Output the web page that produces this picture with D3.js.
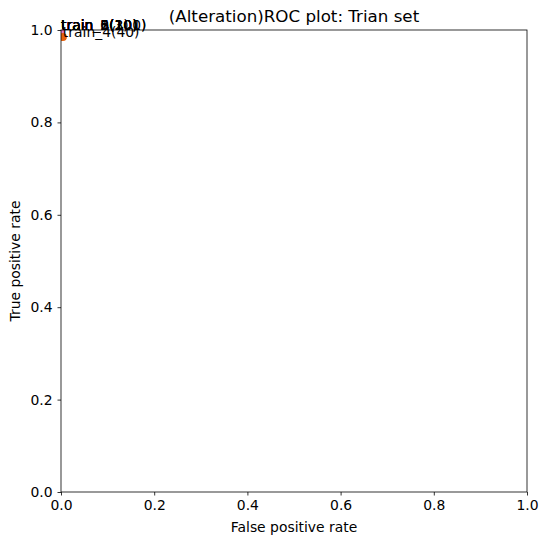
<!DOCTYPE html>
<html>
<head>
<meta charset="utf-8">
<script src="https://cdn.jsdelivr.net/npm/d3@7"></script>
<style>
  body { margin: 0; background: #fff; }
  text { font-family: "DejaVu Sans", sans-serif; }
</style>
</head>
<body>
<div id="chart"></div>
<script>
// ROC points per training run
var labels = ['train_0(1)', 'train_1(10)', 'train_2(20)', 'train_3(30)', 'train_5(100)', 'train_6(101)', 'train_4(40)'];
var fpr = [0, 0, 0, 0, 0, 0, 0.004];
var tpr = [1, 1, 1, 1, 1, 1, 0.985];
var colors = ['#1f77b4', '#2ca02c', '#d62728', '#9467bd', '#8c564b', '#e377c2', '#e6610d'];
var ticks = [0, 0.2, 0.4, 0.6, 0.8, 1.0];

var width = 547, height = 545;
var margin = {top: 30, right: 20, bottom: 53, left: 61};
var w = width - margin.left - margin.right;
var h = height - margin.top - margin.bottom;

var svg = d3.select('#chart').append('svg')
    .attr('width', width)
    .attr('height', height);

var g = svg.append('g')
    .attr('transform', 'translate(' + margin.left + ',' + margin.top + ')');

var x = d3.scaleLinear().domain([0, 1]).range([0, w]);
var y = d3.scaleLinear().domain([0, 1]).range([h, 0]);

svg.append('defs').append('clipPath').attr('id', 'clip')
    .append('rect').attr('width', w).attr('height', h);

var pts = labels.map(function (d, i) { return {label: d, fpr: fpr[i], tpr: tpr[i], color: colors[i]}; });

// Points (clipped to axes like matplotlib)
g.append('g').attr('clip-path', 'url(#clip)')
    .selectAll('circle')
    .data(pts)
    .enter().append('circle')
    .attr('cx', function (d) { return x(d.fpr); })
    .attr('cy', function (d) { return y(d.tpr); })
    .attr('r', 4)
    .style('fill', function (d) { return d.color; });

// Axes
var xAxis = g.append('g')
    .attr('transform', 'translate(0,' + h + ')')
    .call(d3.axisBottom(x).tickValues(ticks).tickFormat(d3.format('.1f')).tickSizeOuter(0).tickSize(3.5).tickPadding(5));
var yAxis = g.append('g')
    .call(d3.axisLeft(y).tickValues(ticks).tickFormat(d3.format('.1f')).tickSizeOuter(0).tickSize(3.5).tickPadding(5));
[xAxis, yAxis].forEach(function (a) {
    a.selectAll('text').style('font-size', '13.9px').attr('fill', '#000');
    a.selectAll('line').attr('stroke', '#000').attr('stroke-width', 0.8);
    a.select('.domain').remove();
});

// Frame
g.append('rect')
    .attr('width', w).attr('height', h)
    .style('fill', 'none').style('stroke', '#000').style('stroke-width', 0.8);

// Point labels
g.selectAll('.label')
    .data(pts)
    .enter().append('text')
    .attr('class', 'label')
    .attr('x', function (d) { return x(d.fpr); })
    .attr('y', function (d) { return y(d.tpr); })
    .style('font-size', '13.9px')
    .attr('fill', '#000')
    .text(function (d) { return d.label; });

// Title and axis labels
svg.append('text')
    .attr('x', margin.left + w / 2).attr('y', 22)
    .attr('text-anchor', 'middle')
    .style('font-size', '16.7px')
    .text('(Alteration)ROC plot: Trian set');

svg.append('text')
    .attr('x', margin.left + w / 2).attr('y', 532)
    .attr('text-anchor', 'middle')
    .style('font-size', '13.9px')
    .text('False positive rate');

svg.append('text')
    .attr('transform', 'translate(20,' + (margin.top + h / 2) + ') rotate(-90)')
    .attr('text-anchor', 'middle')
    .style('font-size', '13.9px')
    .text('True positive rate');
</script>
</body>
</html>
